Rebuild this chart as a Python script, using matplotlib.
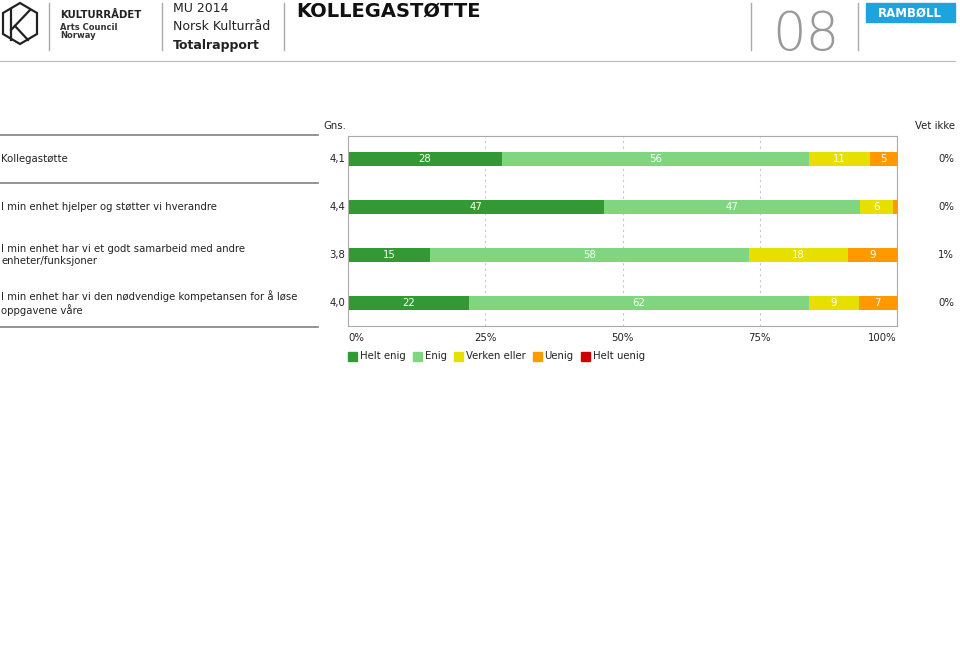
import matplotlib.pyplot as plt
from matplotlib.patches import Rectangle, Polygon
from matplotlib.lines import Line2D

# data
questions = [
    "Kollegastøtte",
    "I min enhet hjelper og støtter vi hverandre",
    "I min enhet har vi et godt samarbeid med andre\nenheter/funksjoner",
    "I min enhet har vi den nødvendige kompetansen for å løse\noppgavene våre",
]
gns = ["4,1", "4,4", "3,8", "4,0"]
vet_ikke = ["0%", "0%", "1%", "0%"]
categories = ["Helt enig", "Enig", "Verken eller", "Uenig", "Helt uenig"]
helt_enig = [28, 46.6, 15, 22]
enig = [56, 46.6, 58, 62]
verken = [11, 6.0, 18, 9]
uenig = [5, 0.8, 9, 7]
helt_uenig = [0, 0, 0, 0]
ticks = [0, 25, 50, 75, 100]
tick_labels = ["0%", "25%", "50%", "75%", "100%"]

colors = ["#339933", "#80d680", "#e6e000", "#ff9900", "#cc0000"]
W, H = 960, 647
FS = 7.3
plt.rcParams['font.family'] = ['DejaVu Sans']

fig = plt.figure(figsize=(W / 100, H / 100), dpi=100)


def px(x, y):
    return x / W, 1 - y / H


# header
fig.add_artist(Polygon([px(20, 3), px(37, 13), px(37, 34), px(20, 44), px(3, 34), px(3, 13)],
                       closed=True, fill=False, lw=1.6, ec="#222222", transform=fig.transFigure))
fig.add_artist(Line2D(*zip(px(11, 9), px(11, 40)), lw=1.6, color="#222222"))
fig.add_artist(Line2D(*zip(px(11, 30), px(30, 10)), lw=1.6, color="#222222"))
fig.add_artist(Line2D(*zip(px(15, 26), px(28, 40)), lw=1.6, color="#222222"))
fig.text(*px(60, 15), "KULTURRÅDET", fontsize=7.3, weight="bold", va="center", color="#222222")
fig.text(*px(60, 27), "Arts Council", fontsize=6, weight="bold", va="center", color="#333333")
fig.text(*px(60, 35), "Norway", fontsize=6, weight="bold", va="center", color="#333333")
fig.text(*px(173, 8), "MU 2014", fontsize=9, va="center", color="#222222")
fig.text(*px(173, 26), "Norsk Kulturråd", fontsize=9, va="center", color="#222222")
fig.text(*px(173, 46), "Totalrapport", fontsize=9, weight="bold", va="center", color="#222222")
fig.text(*px(296, 11), "KOLLEGASTØTTE", fontsize=14, weight="bold", va="center", color="#111111")
fig.text(*px(806, 50), "08", fontsize=38, va="baseline", ha="center", color="#999999",
         weight="light")
for x in [49, 162, 284, 751, 858]:
    fig.add_artist(Line2D(*zip(px(x, 3), px(x, 50)), lw=1, color="#aaaaaa"))
fig.add_artist(Rectangle(px(866, 22), 89 / W, 19 / H, color="#1fa3e0", transform=fig.transFigure))
fig.text(*px(910, 13), "RAMBØLL", fontsize=8.5, weight="bold", va="center", ha="center", color="white")
fig.add_artist(Line2D(*zip(px(0, 61), px(955, 61)), lw=0.8, color="#bbbbbb"))

# left labels and separators
rows_y = [159, 207, 255, 303]
for q, g, v, y in zip(questions, gns, vet_ikke, rows_y):
    fig.text(*px(1, y), q, fontsize=FS, va="center", ha="left", color="#222222", linespacing=1.15)
    fig.text(*px(345, y), g, fontsize=FS, va="center", ha="right", color="#222222")
    fig.text(*px(954, y), v, fontsize=FS, va="center", ha="right", color="#222222")
for y in [135, 183, 327]:
    fig.add_artist(Line2D(*zip(px(0, y), px(318, y)), lw=1.2, color="#808080"))
fig.text(*px(323, 126), "Gns.", fontsize=FS, va="center", ha="left", color="#222222")
fig.text(*px(955, 126), "Vet ikke", fontsize=FS, va="center", ha="right", color="#222222")

# bars
x0, y0 = px(348, 326)
x1, y1 = px(897, 136)
ax = fig.add_axes([x0, y0, x1 - x0, y1 - y0])
series = [helt_enig, enig, verken, uenig, helt_uenig]
pos = list(range(len(questions)))
left = [0] * len(questions)
for vals, col in zip(series, colors):
    ax.barh(pos, vals, left=left, height=0.31, color=col, zorder=2)
    for i, v in enumerate(vals):
        if v >= 3:
            ax.text(left[i] + v / 2, i, f"{round(v)}", ha="center", va="center",
                    color="white", fontsize=FS, zorder=3)
    left = [l + v for l, v in zip(left, vals)]

ax.set_xlim(0, 100)
ax.set_ylim(3.479, -0.479)
ax.set_yticks([])
ax.set_xticks(ticks)
ax.set_xticklabels([])
ax.tick_params(axis="x", length=0)
ax.grid(axis="x", ls=(0, (2, 3)), color="#c8c8c8", lw=0.8, zorder=0)
for s in ax.spines.values():
    s.set_color("#aaaaaa")
    s.set_linewidth(0.8)

for t, lab in zip(ticks, tick_labels):
    xp = 348 + t / 100 * 549
    ha = "left" if t == 0 else ("right" if t == 100 else "center")
    fig.text(*px(xp, 338), lab, fontsize=FS, va="center", ha=ha, color="#222222")

# legend
renderer = fig.canvas.get_renderer()
lx = 348
for cat, col in zip(categories, colors):
    fig.add_artist(Rectangle(px(lx, 361), 9 / W, 9 / H, color=col, transform=fig.transFigure))
    t = fig.text(*px(lx + 12, 356), cat, fontsize=FS, va="center", ha="left", color="#222222")
    lx = t.get_window_extent(renderer).x1 + 7

fig.savefig("out.png", dpi=100)
